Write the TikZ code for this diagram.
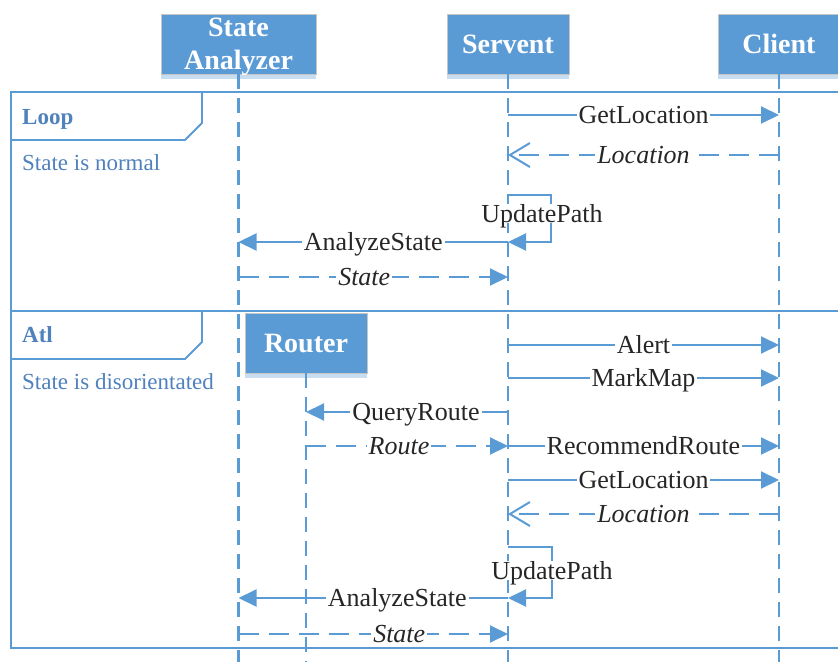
\documentclass[tikz,border=0pt]{standalone}
\usepackage{fontspec}
\setmainfont{Liberation Serif}
\usetikzlibrary{arrows.meta,positioning}

\definecolor{seqblue}{RGB}{91,155,213}
\definecolor{seqtext}{RGB}{79,129,189}
\definecolor{seqshade}{RGB}{200,221,240}

\tikzset{
  obj/.style = {fill = seqblue, draw = gray!45, line width = 0.8pt, minimum width = 122pt,
    minimum height = 60pt, inner sep = 0pt, align = center, text = white,
    font = \fontsize{28}{33}\selectfont\bfseries},
  life/.style = {seqblue, line width = 2.2pt, dash pattern = on 15pt off 9pt},
  msg/.style = {seqblue, line width = 2pt, -{Triangle[length = 18pt, width = 17pt]}},
  dmsg/.style = {msg, dash pattern = on 20pt off 10pt},
  reply/.style = {seqblue, line width = 2pt, dash pattern = on 20pt off 10pt,
    -{Straight Barb[length = 20pt, width = 24pt, line width = 2pt]}},
  lbl/.style = {fill = white, inner xsep = 2pt, inner ysep = 1pt, text height = 17pt,
    text depth = 0pt, text = black!85, font = \fontsize{26}{30}\selectfont},
  rlbl/.style = {lbl, font = \fontsize{26}{30}\selectfont\itshape},
  frame/.style = {seqblue, line width = 1.8pt},
  guard/.style = {anchor = west, inner sep = 0pt, text height = 15.5pt, text depth = 0pt,
    text = seqtext, font = \fontsize{23}{27}\selectfont}
}

\begin{document}
\begin{tikzpicture}[x = 1pt, y = -1pt]
\useasboundingbox (0,0) rectangle (838,662);
\clip (0,0) rectangle (838,662);

% combined fragments
\draw[frame] (11,92) rectangle (850,311);
\draw[frame] (11,311) rectangle (850,648);
\draw[frame] (11,140) -- (185,140) -- (202,123) -- (202,92);
\draw[frame] (11,359) -- (185,359) -- (202,342) -- (202,311);
\node[guard, font = \fontsize{23}{27}\selectfont\bfseries] (loop) at (22,117) {Loop};
\node[guard] (normal) at (22,163) {State is normal};
\node[guard, font = \fontsize{23}{27}\selectfont\bfseries] (atl) at (22,335) {Atl};
\node[guard] (lost) at (22,382) {State is disorientated};

% objects and lifelines
\node[obj, minimum width = 155pt, text depth = 0pt] (analyzer) at (238.5,44) {State\\Analyzer};
\node[obj] (servent) at (508,44) {Servent};
\node[obj] (client) at (779,44) {Client};
\node[obj] (router) at (306,343) {Router};
\coordinate (bottom) at (0,662);
\foreach \n in {analyzer,servent,client,router} {
  \fill[seqshade] ([yshift = -0.4pt]\n.south west) rectangle ([yshift = -5pt]\n.south east);
  \draw[life] (\n.south) -- (\n |- bottom);
}

% loop
\draw[msg] (servent |- 0,115) -- node[lbl] {GetLocation} (client |- 0,115);
\draw[reply] (client |- 0,155) -- node[rlbl] {Location} (servent |- 0,155);
\draw[msg] (servent |- 0,195) -- ++(43,0) -- node[lbl, pos = 0.4, xshift = -9pt] {UpdatePath} ++(0,47) -- (servent |- 0,242);
\draw[msg] (servent |- 0,242) -- node[lbl] {AnalyzeState} (analyzer |- 0,242);
\draw[dmsg] (analyzer |- 0,277) -- node[rlbl, xshift = -9pt] {State} (servent |- 0,277);

% alt
\draw[msg] (servent |- 0,345) -- node[lbl] {Alert} (client |- 0,345);
\draw[msg] (servent |- 0,378) -- node[lbl] {MarkMap} (client |- 0,378);
\draw[msg] (servent |- 0,412) -- node[lbl, xshift = 9pt] {QueryRoute} (router |- 0,412);
\draw[dmsg] (router |- 0,446) -- node[rlbl, xshift = -8pt] {Route} (servent |- 0,446);
\draw[msg] (servent |- 0,446) -- node[lbl] {RecommendRoute} (client |- 0,446);
\draw[msg] (servent |- 0,480) -- node[lbl] {GetLocation} (client |- 0,480);
\draw[reply] (client |- 0,514) -- node[rlbl] {Location} (servent |- 0,514);
\draw[msg] (servent |- 0,547) -- ++(44,0) -- node[lbl, pos = 0.47] {UpdatePath} ++(0,51) -- (servent |- 0,598);
\draw[msg] (servent |- 0,598) -- node[lbl, xshift = 24pt] {AnalyzeState} (analyzer |- 0,598);
\draw[dmsg] (analyzer |- 0,634) -- node[rlbl, xshift = 26pt] {State} (servent |- 0,634);
\end{tikzpicture}
\end{document}
